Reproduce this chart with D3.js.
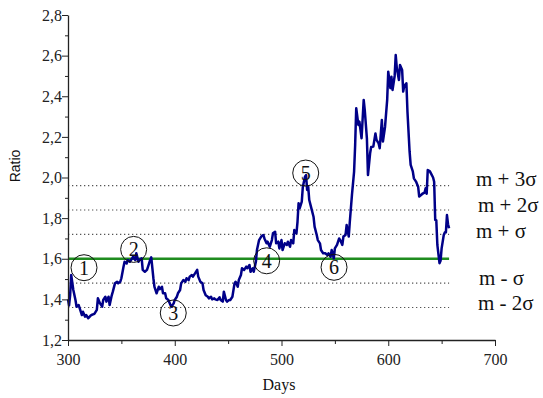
<!DOCTYPE html>
<html>
<head>
<meta charset="utf-8">
<script src="https://cdn.jsdelivr.net/npm/d3@7"></script>
<style>
  html, body { margin: 0; padding: 0; background: #fff; }
  svg { display: block; }
</style>
</head>
<body>
<svg id="chart" width="543" height="398"></svg>
<script>
// Daily ratio series
const days = [
  300,301,302,303,305,307,308,310,311,313,314,316,317,319,321,322,324,325,327,328,
  330,332,333,335,336,338,339,341,342,344,346,347,349,350,352,353,355,356,358,360,
  361,363,364,366,367,369,370,372,374,375,377,378,380,381,383,385,386,388,389,391,
  392,394,396,397,399,400,402,403,405,406,408,410,411,413,414,416,417,419,421,422,
  424,426,427,429,431,432,434,435,437,438,440,442,443,445,446,448,449,451,452,454,
  456,457,459,460,462,463,465,467,468,470,471,473,474,476,477,479,481,483,484,486,
  487,489,491,492,494,495,497,498,500,501,503,505,506,508,509,511,512,514,515,516,
  517,519,520,522,523,524,525,526,528,530,531,533,534,536,537,539,541,543,544,546,
  547,549,550,552,554,555,557,558,560,561,563,564,566,568,569,570,572,573,575,577,
  578,580,581,583,584,586,588,589,591,592,594,595,597,599,600,602,603,604,606,607,
  608,610,611,613,614,615,617,618,620,621,623,624,626,628,629,631,632,634,635,636,
  637,639,640,642,643,644,645,646,648,649,650,652,653,654,655,656,657
];
const ratio = [
  1.400,1.370,1.420,1.520,1.446,1.397,1.364,1.372,1.356,1.323,1.339,1.315,1.323,1.307,1.319,1.323,1.327,1.331,1.348,1.405,
  1.380,1.364,1.397,1.413,1.389,1.413,1.372,1.420,1.438,1.479,1.487,1.479,1.487,1.504,1.561,1.585,1.577,1.594,1.585,1.602,
  1.610,1.594,1.627,1.585,1.594,1.602,1.545,1.536,1.545,1.561,1.594,1.607,1.504,1.462,1.430,1.462,1.450,1.462,1.430,1.430,
  1.405,1.397,1.372,1.364,1.380,1.397,1.413,1.430,1.446,1.479,1.495,1.487,1.504,1.495,1.512,1.520,1.512,1.528,1.545,1.512,
  1.487,1.479,1.446,1.420,1.413,1.405,1.413,1.400,1.405,1.400,1.397,1.410,1.397,1.389,1.438,1.397,1.389,1.397,1.397,1.413,
  1.479,1.487,1.462,1.495,1.520,1.553,1.545,1.561,1.553,1.569,1.536,1.553,1.536,1.585,1.643,1.692,1.709,1.717,1.700,1.676,
  1.684,1.659,1.692,1.725,1.733,1.676,1.684,1.651,1.692,1.643,1.676,1.668,1.684,1.659,1.692,1.676,1.741,1.725,1.782,1.873,
  1.848,1.881,1.955,2.004,2.012,1.939,1.955,1.889,1.848,1.807,1.758,1.717,1.692,1.676,1.643,1.627,1.627,1.618,1.627,1.610,
  1.643,1.602,1.651,1.668,1.700,1.692,1.668,1.709,1.717,1.766,1.709,1.782,1.914,2.029,2.160,2.341,2.259,2.275,2.193,2.382,
  2.332,2.193,2.012,2.119,2.150,2.152,2.217,2.185,2.168,2.144,2.283,2.177,2.250,2.382,2.521,2.440,2.496,2.431,2.500,2.603,
  2.540,2.480,2.554,2.529,2.423,2.450,2.464,2.324,2.127,2.062,2.030,1.996,1.980,1.955,1.906,1.915,1.920,1.925,1.947,1.920,
  2.037,2.030,2.020,2.000,1.979,1.791,1.790,1.668,1.578,1.590,1.651,1.717,1.730,1.730,1.815,1.770,1.750
];

// Mean and standard deviation bands
const meanRatio = 1.6;
const sigmaRatio = 0.12;
const bandMultiples = [3, 2, 1, -1, -2];
const bandLabels = ["m + 3σ", "m + 2σ", "m + σ", "m - σ", "m - 2σ"];

// Numbered events
const eventNames = ["1", "2", "3", "4", "5", "6"];
const eventDays = [315, 361.5, 398.6, 486.1, 522.7, 549.2];
const eventValues = [1.556, 1.646, 1.333, 1.59, 2.022, 1.558];

// Axis ticks
const xTicks = [300, 400, 500, 600, 700];
const xMinorTicks = [350, 450, 550, 650];
const yTicks = [1.2, 1.4, 1.6, 1.8, 2.0, 2.2, 2.4, 2.6, 2.8];
const yMinorTicks = [1.3, 1.5, 1.7, 1.9, 2.1, 2.3, 2.5, 2.7];

const svg = d3.select("#chart");
const x = d3.scaleLinear().domain([300, 700]).range([68, 495]);
const y = d3.scaleLinear().domain([1.2, 2.8]).range([340, 15]);

const serif = "'Liberation Serif', 'Times New Roman', serif";
const commaFmt = d3.formatLocale({ decimal: ",", thousands: ".", grouping: [3], currency: ["", ""] }).format(".1f");

const xEnd = d3.max(days);

// Dotted sigma levels
svg.append("g").selectAll("line")
  .data(bandMultiples)
  .join("line")
  .attr("x1", x(300)).attr("x2", x(xEnd))
  .attr("y1", k => y(meanRatio + k * sigmaRatio))
  .attr("y2", k => y(meanRatio + k * sigmaRatio))
  .attr("stroke", "#555")
  .attr("stroke-width", 1.2)
  .attr("stroke-dasharray", "1.3,2.7");

// Mean level
svg.append("line")
  .attr("x1", x(300)).attr("x2", x(xEnd))
  .attr("y1", y(meanRatio)).attr("y2", y(meanRatio))
  .attr("stroke", "#1f8c1f")
  .attr("stroke-width", 2.4);

// Ratio series
const pts = days.map((d, i) => [d, ratio[i]]);
svg.append("path")
  .datum(pts)
  .attr("fill", "none")
  .attr("stroke", "#000088")
  .attr("stroke-width", 2.5)
  .attr("stroke-linejoin", "round")
  .attr("d", d3.line().x(d => x(d[0])).y(d => y(d[1])));

// Event markers
const ev = svg.append("g").selectAll("g")
  .data(eventNames.map((n, i) => ({ n, d: eventDays[i], v: eventValues[i] })))
  .join("g")
  .attr("transform", e => `translate(${x(e.d)},${y(e.v)})`);
ev.append("circle")
  .attr("r", 13)
  .attr("fill", "none")
  .attr("stroke", "#111")
  .attr("stroke-width", 1);
ev.append("text")
  .attr("text-anchor", "middle")
  .attr("y", 7)
  .attr("font-family", serif)
  .attr("font-size", 20)
  .attr("fill", "#111")
  .text(e => e.n);

// Band labels
const labelX = [476, 478, 476, 479, 478];
const labelDy = [0, 2, 4, 2, 2];
svg.append("g").selectAll("text")
  .data(bandMultiples)
  .join("text")
  .attr("x", (k, i) => labelX[i])
  .attr("y", (k, i) => y(meanRatio + k * sigmaRatio) + labelDy[i])
  .attr("font-family", serif)
  .attr("font-size", 21)
  .attr("fill", "#111")
  .text((k, i) => bandLabels[i]);

// Axes
const axisColor = "#222";
const gx = svg.append("g")
  .attr("transform", `translate(0,${y(1.2)})`)
  .style("color", axisColor)
  .call(d3.axisBottom(x).tickValues(xTicks).tickSize(6).tickSizeOuter(0).tickPadding(8).tickFormat(d3.format("d")));
gx.selectAll("text").attr("font-family", serif).attr("font-size", 16).attr("fill", "#222");
gx.select(".domain").attr("stroke-width", 1.3);
svg.append("g")
  .attr("transform", `translate(0,${y(1.2)})`)
  .style("color", axisColor)
  .call(d3.axisBottom(x).tickValues(xMinorTicks).tickSize(4).tickFormat(""))
  .call(g => g.select(".domain").remove());

const gy = svg.append("g")
  .attr("transform", `translate(${x(300)},0)`)
  .style("color", axisColor)
  .call(d3.axisLeft(y).tickValues(yTicks).tickSize(6).tickSizeOuter(0).tickPadding(0).tickFormat(commaFmt));
gy.selectAll("text").attr("font-family", serif).attr("font-size", 16).attr("fill", "#222");
gy.select(".domain").attr("stroke-width", 1.3);
svg.append("g")
  .attr("transform", `translate(${x(300)},0)`)
  .style("color", axisColor)
  .call(d3.axisLeft(y).tickValues(yMinorTicks).tickSize(3).tickFormat(""))
  .call(g => g.select(".domain").remove());

// Axis titles
svg.append("text")
  .attr("x", 279).attr("y", 390)
  .attr("text-anchor", "middle")
  .attr("font-family", serif)
  .attr("font-size", 16)
  .attr("fill", "#111")
  .text("Days");

svg.append("text")
  .attr("transform", "translate(20,166) rotate(-90)")
  .attr("text-anchor", "middle")
  .attr("font-family", "'Liberation Sans', Arial, sans-serif")
  .attr("font-size", 14)
  .attr("fill", "#111")
  .text("Ratio");
</script>
</body>
</html>
